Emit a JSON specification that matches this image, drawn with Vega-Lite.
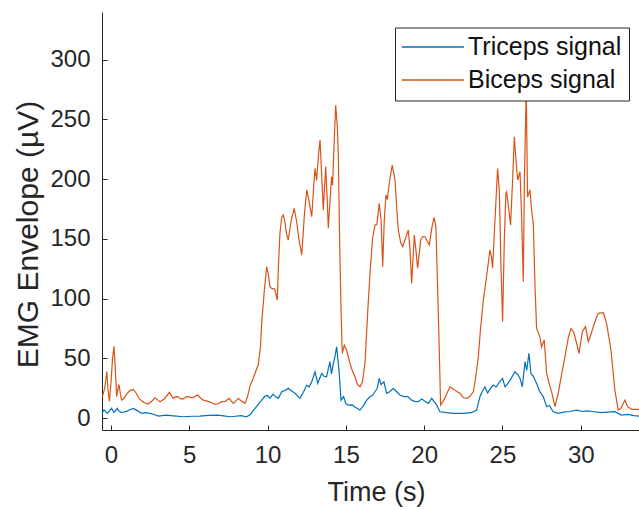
{
  "$schema": "https://vega.github.io/schema/vega-lite/v6.json",
  "width": 537,
  "height": 418,
  "autosize": {"type": "none"},
  "padding": {"left": 102, "top": 12, "right": 0, "bottom": 80},
  "background": "white",
  "config": {
    "view": {"stroke": null},
    "font": "Liberation Sans",
    "axis": {
      "grid": false,
      "domainColor": "#262626",
      "domainWidth": 1,
      "tickColor": "#262626",
      "tickWidth": 1,
      "tickSize": -5,
      "labelColor": "#262626",
      "labelFont": "Liberation Sans",
      "labelFontSize": 24,
      "titleColor": "#262626",
      "titleFont": "Liberation Sans",
      "titleFontSize": 27,
      "titleFontWeight": "normal"
    }
  },
  "data": {"values": [
    {"s":"Triceps signal","t":-0.57,"v":4},{"s":"Triceps signal","t":-0.45,"v":6.7},{"s":"Triceps signal","t":-0.38,"v":6},{"s":"Triceps signal","t":-0.23,"v":3.9},{"s":"Triceps signal","t":-0.1,"v":6},{"s":"Triceps signal","t":0.04,"v":8.1},{"s":"Triceps signal","t":0.19,"v":4.7},{"s":"Triceps signal","t":0.3,"v":6.5},{"s":"Triceps signal","t":0.4,"v":8.1},{"s":"Triceps signal","t":0.5,"v":6},{"s":"Triceps signal","t":0.62,"v":4.7},{"s":"Triceps signal","t":0.8,"v":5},{"s":"Triceps signal","t":1.0,"v":5.6},{"s":"Triceps signal","t":1.2,"v":7},{"s":"Triceps signal","t":1.43,"v":8.1},{"s":"Triceps signal","t":1.7,"v":6},{"s":"Triceps signal","t":1.96,"v":3.9},{"s":"Triceps signal","t":2.2,"v":4.5},{"s":"Triceps signal","t":2.49,"v":3.9},{"s":"Triceps signal","t":2.75,"v":3},{"s":"Triceps signal","t":3.02,"v":1.7},{"s":"Triceps signal","t":3.5,"v":2.5},{"s":"Triceps signal","t":4.0,"v":1.8},{"s":"Triceps signal","t":4.62,"v":1.1},{"s":"Triceps signal","t":5.2,"v":1.5},{"s":"Triceps signal","t":5.68,"v":1.7},{"s":"Triceps signal","t":6.0,"v":2},{"s":"Triceps signal","t":6.32,"v":2.3},{"s":"Triceps signal","t":6.8,"v":2.5},{"s":"Triceps signal","t":7.2,"v":1.8},{"s":"Triceps signal","t":7.6,"v":1.1},{"s":"Triceps signal","t":7.95,"v":1.5},{"s":"Triceps signal","t":8.3,"v":2},{"s":"Triceps signal","t":8.66,"v":1.1},{"s":"Triceps signal","t":8.9,"v":3},{"s":"Triceps signal","t":9.2,"v":8.1},{"s":"Triceps signal","t":9.45,"v":12},{"s":"Triceps signal","t":9.83,"v":18.4},{"s":"Triceps signal","t":10.0,"v":19},{"s":"Triceps signal","t":10.15,"v":16.5},{"s":"Triceps signal","t":10.35,"v":20},{"s":"Triceps signal","t":10.5,"v":18},{"s":"Triceps signal","t":10.69,"v":16.5},{"s":"Triceps signal","t":10.9,"v":22},{"s":"Triceps signal","t":11.1,"v":23},{"s":"Triceps signal","t":11.32,"v":24.9},{"s":"Triceps signal","t":11.5,"v":23},{"s":"Triceps signal","t":11.75,"v":20.7},{"s":"Triceps signal","t":12.07,"v":16.5},{"s":"Triceps signal","t":12.3,"v":22},{"s":"Triceps signal","t":12.5,"v":27.6},{"s":"Triceps signal","t":12.65,"v":26},{"s":"Triceps signal","t":12.82,"v":30.4},{"s":"Triceps signal","t":13.03,"v":38.8},{"s":"Triceps signal","t":13.2,"v":29},{"s":"Triceps signal","t":13.35,"v":34},{"s":"Triceps signal","t":13.46,"v":37.4},{"s":"Triceps signal","t":13.6,"v":35},{"s":"Triceps signal","t":13.77,"v":34.6},{"s":"Triceps signal","t":13.98,"v":47.2},{"s":"Triceps signal","t":14.08,"v":37},{"s":"Triceps signal","t":14.2,"v":45.8},{"s":"Triceps signal","t":14.3,"v":51.3},{"s":"Triceps signal","t":14.41,"v":59.7},{"s":"Triceps signal","t":14.56,"v":40.2},{"s":"Triceps signal","t":14.69,"v":15},{"s":"Triceps signal","t":14.85,"v":18},{"s":"Triceps signal","t":15.0,"v":12},{"s":"Triceps signal","t":15.15,"v":10.9},{"s":"Triceps signal","t":15.4,"v":11},{"s":"Triceps signal","t":15.6,"v":9},{"s":"Triceps signal","t":15.9,"v":6.7},{"s":"Triceps signal","t":16.1,"v":10},{"s":"Triceps signal","t":16.33,"v":15},{"s":"Triceps signal","t":16.54,"v":17.8},{"s":"Triceps signal","t":16.7,"v":19},{"s":"Triceps signal","t":16.86,"v":22},{"s":"Triceps signal","t":17.0,"v":25},{"s":"Triceps signal","t":17.13,"v":33.2},{"s":"Triceps signal","t":17.25,"v":28},{"s":"Triceps signal","t":17.43,"v":30.4},{"s":"Triceps signal","t":17.6,"v":20.7},{"s":"Triceps signal","t":17.8,"v":22},{"s":"Triceps signal","t":18.03,"v":24.9},{"s":"Triceps signal","t":18.25,"v":22},{"s":"Triceps signal","t":18.45,"v":19.3},{"s":"Triceps signal","t":18.7,"v":18},{"s":"Triceps signal","t":18.95,"v":18},{"s":"Triceps signal","t":19.2,"v":15},{"s":"Triceps signal","t":19.4,"v":14},{"s":"Triceps signal","t":19.62,"v":13.7},{"s":"Triceps signal","t":19.85,"v":16},{"s":"Triceps signal","t":20.05,"v":14},{"s":"Triceps signal","t":20.26,"v":12.3},{"s":"Triceps signal","t":20.48,"v":16.5},{"s":"Triceps signal","t":20.8,"v":10.9},{"s":"Triceps signal","t":21.01,"v":5.3},{"s":"Triceps signal","t":21.4,"v":4.5},{"s":"Triceps signal","t":21.86,"v":3.9},{"s":"Triceps signal","t":22.5,"v":4},{"s":"Triceps signal","t":23.0,"v":4.5},{"s":"Triceps signal","t":23.35,"v":6.7},{"s":"Triceps signal","t":23.56,"v":17.8},{"s":"Triceps signal","t":23.7,"v":22},{"s":"Triceps signal","t":23.88,"v":26.2},{"s":"Triceps signal","t":24.05,"v":21},{"s":"Triceps signal","t":24.2,"v":24},{"s":"Triceps signal","t":24.41,"v":27.6},{"s":"Triceps signal","t":24.6,"v":26},{"s":"Triceps signal","t":24.8,"v":30},{"s":"Triceps signal","t":25.01,"v":33.2},{"s":"Triceps signal","t":25.16,"v":26.2},{"s":"Triceps signal","t":25.35,"v":29},{"s":"Triceps signal","t":25.5,"v":32},{"s":"Triceps signal","t":25.8,"v":38.8},{"s":"Triceps signal","t":26.0,"v":36},{"s":"Triceps signal","t":26.12,"v":33.2},{"s":"Triceps signal","t":26.27,"v":26.2},{"s":"Triceps signal","t":26.44,"v":47.2},{"s":"Triceps signal","t":26.55,"v":40},{"s":"Triceps signal","t":26.69,"v":54.2},{"s":"Triceps signal","t":26.82,"v":37.4},{"s":"Triceps signal","t":26.97,"v":35},{"s":"Triceps signal","t":27.18,"v":29},{"s":"Triceps signal","t":27.39,"v":22},{"s":"Triceps signal","t":27.61,"v":17.8},{"s":"Triceps signal","t":27.82,"v":9.5},{"s":"Triceps signal","t":28.0,"v":10.5},{"s":"Triceps signal","t":28.24,"v":5.3},{"s":"Triceps signal","t":28.56,"v":3.9},{"s":"Triceps signal","t":28.9,"v":5},{"s":"Triceps signal","t":29.3,"v":5.5},{"s":"Triceps signal","t":29.74,"v":6.7},{"s":"Triceps signal","t":30.1,"v":5.5},{"s":"Triceps signal","t":30.4,"v":6},{"s":"Triceps signal","t":30.9,"v":5.3},{"s":"Triceps signal","t":31.3,"v":4.5},{"s":"Triceps signal","t":31.7,"v":5},{"s":"Triceps signal","t":32.18,"v":5.3},{"s":"Triceps signal","t":32.6,"v":2.5},{"s":"Triceps signal","t":33.0,"v":3},{"s":"Triceps signal","t":33.4,"v":2},{"s":"Triceps signal","t":33.72,"v":1.7},
    {"s":"Biceps signal","t":-0.57,"v":17},{"s":"Biceps signal","t":-0.4,"v":25},{"s":"Biceps signal","t":-0.27,"v":39},{"s":"Biceps signal","t":-0.18,"v":22},{"s":"Biceps signal","t":-0.1,"v":14},{"s":"Biceps signal","t":0.0,"v":30},{"s":"Biceps signal","t":0.1,"v":50},{"s":"Biceps signal","t":0.19,"v":60},{"s":"Biceps signal","t":0.27,"v":42},{"s":"Biceps signal","t":0.36,"v":18},{"s":"Biceps signal","t":0.45,"v":25},{"s":"Biceps signal","t":0.51,"v":28},{"s":"Biceps signal","t":0.6,"v":20},{"s":"Biceps signal","t":0.68,"v":15},{"s":"Biceps signal","t":0.85,"v":17},{"s":"Biceps signal","t":1.0,"v":20},{"s":"Biceps signal","t":1.2,"v":23},{"s":"Biceps signal","t":1.43,"v":24},{"s":"Biceps signal","t":1.6,"v":21},{"s":"Biceps signal","t":1.81,"v":16},{"s":"Biceps signal","t":2.1,"v":13},{"s":"Biceps signal","t":2.38,"v":11.7},{"s":"Biceps signal","t":2.6,"v":14},{"s":"Biceps signal","t":2.81,"v":17},{"s":"Biceps signal","t":3.0,"v":15},{"s":"Biceps signal","t":3.13,"v":13.7},{"s":"Biceps signal","t":3.4,"v":16},{"s":"Biceps signal","t":3.73,"v":21.5},{"s":"Biceps signal","t":3.85,"v":19},{"s":"Biceps signal","t":3.98,"v":16.5},{"s":"Biceps signal","t":4.15,"v":18},{"s":"Biceps signal","t":4.3,"v":17.8},{"s":"Biceps signal","t":4.45,"v":16},{"s":"Biceps signal","t":4.62,"v":16},{"s":"Biceps signal","t":4.8,"v":18},{"s":"Biceps signal","t":4.94,"v":17.8},{"s":"Biceps signal","t":5.2,"v":17},{"s":"Biceps signal","t":5.53,"v":19.3},{"s":"Biceps signal","t":5.7,"v":17},{"s":"Biceps signal","t":5.9,"v":15},{"s":"Biceps signal","t":6.2,"v":14},{"s":"Biceps signal","t":6.4,"v":13},{"s":"Biceps signal","t":6.64,"v":11.4},{"s":"Biceps signal","t":6.85,"v":12},{"s":"Biceps signal","t":7.07,"v":13.7},{"s":"Biceps signal","t":7.3,"v":14},{"s":"Biceps signal","t":7.55,"v":16.5},{"s":"Biceps signal","t":7.7,"v":14},{"s":"Biceps signal","t":7.81,"v":12.3},{"s":"Biceps signal","t":7.95,"v":14},{"s":"Biceps signal","t":8.13,"v":16.5},{"s":"Biceps signal","t":8.35,"v":14},{"s":"Biceps signal","t":8.56,"v":12.3},{"s":"Biceps signal","t":8.72,"v":18},{"s":"Biceps signal","t":8.88,"v":27},{"s":"Biceps signal","t":9.1,"v":34},{"s":"Biceps signal","t":9.41,"v":45},{"s":"Biceps signal","t":9.55,"v":60},{"s":"Biceps signal","t":9.62,"v":79},{"s":"Biceps signal","t":9.78,"v":105},{"s":"Biceps signal","t":9.94,"v":126.7},{"s":"Biceps signal","t":10.05,"v":120},{"s":"Biceps signal","t":10.15,"v":110},{"s":"Biceps signal","t":10.26,"v":108.6},{"s":"Biceps signal","t":10.45,"v":108},{"s":"Biceps signal","t":10.62,"v":98.8},{"s":"Biceps signal","t":10.7,"v":130},{"s":"Biceps signal","t":10.79,"v":154.7},{"s":"Biceps signal","t":10.9,"v":168},{"s":"Biceps signal","t":11.0,"v":170},{"s":"Biceps signal","t":11.1,"v":165},{"s":"Biceps signal","t":11.2,"v":155},{"s":"Biceps signal","t":11.32,"v":149},{"s":"Biceps signal","t":11.5,"v":165},{"s":"Biceps signal","t":11.7,"v":175.6},{"s":"Biceps signal","t":11.85,"v":165},{"s":"Biceps signal","t":12.0,"v":150},{"s":"Biceps signal","t":12.18,"v":136.5},{"s":"Biceps signal","t":12.35,"v":170},{"s":"Biceps signal","t":12.5,"v":191},{"s":"Biceps signal","t":12.6,"v":185},{"s":"Biceps signal","t":12.82,"v":168.6},{"s":"Biceps signal","t":12.95,"v":195},{"s":"Biceps signal","t":13.03,"v":209},{"s":"Biceps signal","t":13.13,"v":199},{"s":"Biceps signal","t":13.25,"v":220},{"s":"Biceps signal","t":13.35,"v":232.8},{"s":"Biceps signal","t":13.45,"v":205},{"s":"Biceps signal","t":13.56,"v":174},{"s":"Biceps signal","t":13.71,"v":210.5},{"s":"Biceps signal","t":13.8,"v":185},{"s":"Biceps signal","t":13.88,"v":158.9},{"s":"Biceps signal","t":14.0,"v":185},{"s":"Biceps signal","t":14.09,"v":202},{"s":"Biceps signal","t":14.15,"v":195},{"s":"Biceps signal","t":14.25,"v":230},{"s":"Biceps signal","t":14.35,"v":262},{"s":"Biceps signal","t":14.45,"v":245},{"s":"Biceps signal","t":14.52,"v":218.8},{"s":"Biceps signal","t":14.6,"v":150},{"s":"Biceps signal","t":14.7,"v":85},{"s":"Biceps signal","t":14.77,"v":54.2},{"s":"Biceps signal","t":14.9,"v":61},{"s":"Biceps signal","t":15.05,"v":57},{"s":"Biceps signal","t":15.26,"v":45.8},{"s":"Biceps signal","t":15.4,"v":40},{"s":"Biceps signal","t":15.58,"v":34.6},{"s":"Biceps signal","t":15.75,"v":28},{"s":"Biceps signal","t":15.9,"v":26.2},{"s":"Biceps signal","t":16.05,"v":30},{"s":"Biceps signal","t":16.22,"v":45.8},{"s":"Biceps signal","t":16.4,"v":90},{"s":"Biceps signal","t":16.54,"v":121},{"s":"Biceps signal","t":16.7,"v":150},{"s":"Biceps signal","t":16.86,"v":161.6},{"s":"Biceps signal","t":16.98,"v":162},{"s":"Biceps signal","t":17.13,"v":179.8},{"s":"Biceps signal","t":17.25,"v":165},{"s":"Biceps signal","t":17.35,"v":126.7},{"s":"Biceps signal","t":17.45,"v":165},{"s":"Biceps signal","t":17.56,"v":186.8},{"s":"Biceps signal","t":17.65,"v":183},{"s":"Biceps signal","t":17.77,"v":196.6},{"s":"Biceps signal","t":17.96,"v":211.9},{"s":"Biceps signal","t":18.14,"v":199.3},{"s":"Biceps signal","t":18.25,"v":175},{"s":"Biceps signal","t":18.35,"v":157.5},{"s":"Biceps signal","t":18.5,"v":147},{"s":"Biceps signal","t":18.63,"v":143.5},{"s":"Biceps signal","t":18.8,"v":150},{"s":"Biceps signal","t":18.99,"v":157.5},{"s":"Biceps signal","t":19.1,"v":140},{"s":"Biceps signal","t":19.2,"v":112.8},{"s":"Biceps signal","t":19.37,"v":153.3},{"s":"Biceps signal","t":19.48,"v":140},{"s":"Biceps signal","t":19.58,"v":125.4},{"s":"Biceps signal","t":19.78,"v":149},{"s":"Biceps signal","t":19.9,"v":152},{"s":"Biceps signal","t":20.05,"v":151.8},{"s":"Biceps signal","t":20.2,"v":148},{"s":"Biceps signal","t":20.33,"v":145},{"s":"Biceps signal","t":20.5,"v":160},{"s":"Biceps signal","t":20.63,"v":168},{"s":"Biceps signal","t":20.75,"v":160},{"s":"Biceps signal","t":20.9,"v":90},{"s":"Biceps signal","t":21.05,"v":10.9},{"s":"Biceps signal","t":21.3,"v":16},{"s":"Biceps signal","t":21.5,"v":22},{"s":"Biceps signal","t":21.65,"v":26.2},{"s":"Biceps signal","t":21.9,"v":24},{"s":"Biceps signal","t":22.1,"v":22},{"s":"Biceps signal","t":22.29,"v":20.7},{"s":"Biceps signal","t":22.5,"v":17},{"s":"Biceps signal","t":22.71,"v":16.5},{"s":"Biceps signal","t":22.9,"v":18},{"s":"Biceps signal","t":23.14,"v":22},{"s":"Biceps signal","t":23.3,"v":35},{"s":"Biceps signal","t":23.46,"v":51.3},{"s":"Biceps signal","t":23.6,"v":75},{"s":"Biceps signal","t":23.78,"v":98.8},{"s":"Biceps signal","t":24.0,"v":120},{"s":"Biceps signal","t":24.2,"v":140.7},{"s":"Biceps signal","t":24.3,"v":135},{"s":"Biceps signal","t":24.37,"v":125.4},{"s":"Biceps signal","t":24.5,"v":160},{"s":"Biceps signal","t":24.69,"v":209},{"s":"Biceps signal","t":24.8,"v":190},{"s":"Biceps signal","t":24.9,"v":130},{"s":"Biceps signal","t":25.01,"v":80.7},{"s":"Biceps signal","t":25.12,"v":150},{"s":"Biceps signal","t":25.22,"v":188.2},{"s":"Biceps signal","t":25.27,"v":189.5},{"s":"Biceps signal","t":25.4,"v":175},{"s":"Biceps signal","t":25.52,"v":161.6},{"s":"Biceps signal","t":25.65,"v":200},{"s":"Biceps signal","t":25.76,"v":235.6},{"s":"Biceps signal","t":25.87,"v":215},{"s":"Biceps signal","t":25.97,"v":199.3},{"s":"Biceps signal","t":26.12,"v":206.3},{"s":"Biceps signal","t":26.22,"v":170},{"s":"Biceps signal","t":26.33,"v":114.2},{"s":"Biceps signal","t":26.4,"v":200},{"s":"Biceps signal","t":26.52,"v":275},{"s":"Biceps signal","t":26.6,"v":185},{"s":"Biceps signal","t":26.76,"v":191},{"s":"Biceps signal","t":26.85,"v":175},{"s":"Biceps signal","t":26.97,"v":163},{"s":"Biceps signal","t":27.08,"v":110},{"s":"Biceps signal","t":27.18,"v":75},{"s":"Biceps signal","t":27.39,"v":68},{"s":"Biceps signal","t":27.5,"v":59.7},{"s":"Biceps signal","t":27.67,"v":65.3},{"s":"Biceps signal","t":27.82,"v":37.4},{"s":"Biceps signal","t":28.0,"v":28},{"s":"Biceps signal","t":28.14,"v":22},{"s":"Biceps signal","t":28.35,"v":9.5},{"s":"Biceps signal","t":28.56,"v":20.7},{"s":"Biceps signal","t":28.8,"v":38},{"s":"Biceps signal","t":28.99,"v":51.3},{"s":"Biceps signal","t":29.2,"v":67},{"s":"Biceps signal","t":29.37,"v":75},{"s":"Biceps signal","t":29.55,"v":72},{"s":"Biceps signal","t":29.75,"v":62},{"s":"Biceps signal","t":29.89,"v":54.2},{"s":"Biceps signal","t":30.1,"v":72.3},{"s":"Biceps signal","t":30.31,"v":76.5},{"s":"Biceps signal","t":30.48,"v":63.9},{"s":"Biceps signal","t":30.65,"v":70},{"s":"Biceps signal","t":30.8,"v":76.5},{"s":"Biceps signal","t":31.0,"v":84},{"s":"Biceps signal","t":31.12,"v":87.7},{"s":"Biceps signal","t":31.44,"v":88.2},{"s":"Biceps signal","t":31.65,"v":79.3},{"s":"Biceps signal","t":31.93,"v":57},{"s":"Biceps signal","t":32.18,"v":23.5},{"s":"Biceps signal","t":32.39,"v":6.7},{"s":"Biceps signal","t":32.55,"v":8},{"s":"Biceps signal","t":32.82,"v":15},{"s":"Biceps signal","t":32.99,"v":9.5},{"s":"Biceps signal","t":33.25,"v":7.3},{"s":"Biceps signal","t":33.72,"v":7.3}
  ]},
  "mark": {"type": "line", "strokeWidth": 1.2, "clip": true},
  "encoding": {
    "x": {
      "field": "t", "type": "quantitative",
      "scale": {"domain": [-0.575, 33.72], "nice": false, "zero": false},
      "axis": {"values": [0, 5, 10, 15, 20, 25, 30], "title": "Time (s)", "labelPadding": 18, "titleX": 274, "titleY": 70, "titleBaseline": "alphabetic", "titleAnchor": "middle", "titleAlign": "center"}
    },
    "y": {
      "field": "v", "type": "quantitative",
      "scale": {"domain": [-10, 340], "nice": false, "zero": false},
      "axis": {"values": [0, 50, 100, 150, 200, 250, 300], "title": "EMG Envelope (µV)", "titleFontSize": 30, "labelPadding": 17, "titleX": -65, "titleY": 222, "titleBaseline": "alphabetic", "titleAngle": -90, "titleAlign": "center"}
    },
    "color": {
      "field": "s", "type": "nominal",
      "scale": {"domain": ["Triceps signal", "Biceps signal"], "range": ["#0072BD", "#D95319"]},
      "legend": {
        "title": null,
        "orient": "none",
        "legendX": 293,
        "legendY": 15.5,
        "symbolType": "M-2.45,0H9.55",
        "symbolSize": 107,
        "symbolStrokeWidth": 1.5,
        "labelFont": "Liberation Sans",
        "labelFontSize": 25,
        "labelColor": "#111111",
        "labelOffset": 41,
        "labelLimit": 400,
        "padding": 7,
        "rowPadding": 7,
        "strokeColor": "#262626",
        "fillColor": "white",
        "cornerRadius": 0
      }
    },
    "order": {"field": "t", "type": "quantitative"}
  }
}
